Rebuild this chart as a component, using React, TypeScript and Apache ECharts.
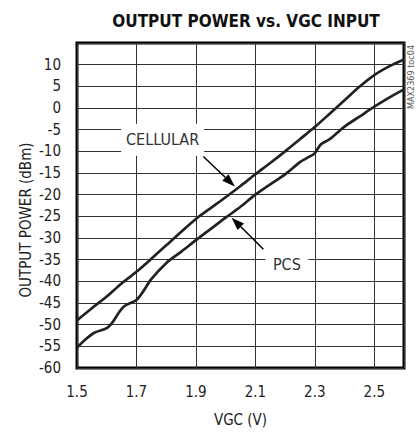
import React, { useEffect, useRef } from "react";
import * as echarts from "echarts";

const X0 = 1.5;
const cellularV = [1.5, 1.55, 1.6, 1.65, 1.7, 1.75, 1.8, 1.85, 1.9, 1.95, 2.0, 2.05, 2.1, 2.15, 2.2, 2.25, 2.3, 2.35, 2.4, 2.45, 2.5, 2.55, 2.6];
const cellularP = [-49, -46.2, -43.5, -40.5, -37.8, -34.8, -31.7, -28.6, -25.6, -23.1, -20.6, -18, -15.3, -12.7, -10, -7.2, -4.4, -1.3, 1.8, 4.9, 7.6, 9.6, 11.2];
const pcsV = [1.5, 1.53, 1.56, 1.6, 1.62, 1.64, 1.66, 1.7, 1.72, 1.75, 1.8, 1.85, 1.9, 1.95, 2.0, 2.05, 2.1, 2.15, 2.2, 2.25, 2.28, 2.3, 2.32, 2.35, 2.4, 2.45, 2.5, 2.55, 2.6];
const pcsP = [-55.3, -53.3, -51.8, -50.8, -49.4, -47.3, -45.7, -44.3, -42.6, -39.5, -35.8, -33.2, -30.5, -27.9, -25.3, -22.8, -20, -17.6, -15.3, -12.5, -11.3, -10.4, -8.4, -7.2, -4.3, -2, 0.3, 2.4, 4.3];

const FONT = "'DejaVu Sans Condensed', 'Liberation Sans Narrow', Roboto, sans-serif";

export default function App() {
  const ref = useRef<HTMLDivElement>(null);
  useEffect(() => {
    document.body.style.margin = "0";
    const chart = echarts.init(ref.current!, undefined, { renderer: "svg" });
    const toPts = (xs: number[], ys: number[]) => xs.map((x, i) => [+(x - X0).toFixed(3), ys[i]]);
    chart.setOption({
      animation: false,
      backgroundColor: "#fff",
      title: {
        text: "OUTPUT POWER vs. VGC INPUT",
        left: 241,
        top: 7,
        textAlign: "center",
        textStyle: { fontFamily: FONT, fontWeight: "bold", fontSize: 17, color: "#111" },
      },
      grid: { left: 77, right: 15, top: 43, bottom: 63, show: true, borderColor: "#000", borderWidth: 3, backgroundColor: "transparent" },
      xAxis: {
        type: "value",
        min: 0,
        max: 1.1,
        interval: 0.2,
        name: "VGC (V)",
        nameLocation: "middle",
        nameGap: 44,
        nameTextStyle: { fontFamily: FONT, fontSize: 15, color: "#222" },
        axisLine: { show: false },
        axisTick: { show: false },
        axisLabel: {
          margin: 16,
          fontFamily: FONT,
          fontSize: 15,
          color: "#222",
          formatter: (v: number) => (v > 1.05 ? "" : (v + X0).toFixed(1)),
        },
        splitLine: { show: true, lineStyle: { color: "#333", width: 1 } },
      },
      yAxis: {
        type: "value",
        min: -60,
        max: 15,
        interval: 5,
        axisLine: { show: false },
        axisTick: { show: false },
        axisLabel: {
          margin: 16,
          fontFamily: FONT,
          fontSize: 15,
          color: "#222",
          formatter: (v: number) => (v >= 15 ? "" : String(v)),
        },
        splitLine: { show: true, lineStyle: { color: "#333", width: 1 } },
      },
      series: [
        {
          name: "CELLULAR",
          type: "line",
          data: toPts(cellularV, cellularP),
          showSymbol: false,
          smooth: 0.3,
          lineStyle: { color: "#222", width: 2.7 },
          z: 5,
        },
        {
          name: "PCS",
          type: "line",
          data: toPts(pcsV, pcsP),
          showSymbol: false,
          smooth: 0.3,
          lineStyle: { color: "#222", width: 2.7 },
          z: 5,
        },
      ],
    });

    const px = (v: number, p: number) => chart.convertToPixel({ gridIndex: 0 }, [v - X0, p]) as number[];
    const arrow = (from: number[], to: number[]) => {
      const a = px(from[0], from[1]);
      const b = px(to[0], to[1]);
      const ang = Math.atan2(b[1] - a[1], b[0] - a[0]);
      const L = 13, W = 4.5;
      const bx = b[0] - L * Math.cos(ang), by = b[1] - L * Math.sin(ang);
      const nx = -Math.sin(ang), ny = Math.cos(ang);
      return [
        { type: "line", shape: { x1: a[0], y1: a[1], x2: bx, y2: by }, style: { stroke: "#000", lineWidth: 1.5 }, z: 20 },
        {
          type: "polygon",
          shape: { points: [[b[0], b[1]], [bx + nx * W, by + ny * W], [bx - nx * W, by - ny * W]] },
          style: { fill: "#000" },
          z: 20,
        },
      ];
    };
    const label = (text: string, v: number, p: number, w: number, h: number) => {
      const c = px(v, p);
      return [
        { type: "rect", shape: { x: c[0] - w / 2, y: c[1] - h / 2, width: w, height: h }, style: { fill: "#fff" }, z: 15 },
        {
          type: "text",
          x: c[0],
          y: c[1],
          style: { text, fontFamily: FONT, fontSize: 16, fill: "#333", align: "center", verticalAlign: "middle" },
          z: 16,
        },
      ];
    };
    chart.setOption({
      graphic: [
        ...label("CELLULAR", 1.788, -7.3, 83, 32),
        ...label("PCS", 2.206, -36.1, 43, 18),
        ...arrow([1.925, -11.2], [2.031, -18.1]),
        ...arrow([2.127, -32.6], [2.02, -25.3]),
        {
          type: "text",
          x: 26,
          y: 220,
          rotation: Math.PI / 2,
          style: { text: "OUTPUT POWER (dBm)", fontFamily: FONT, fontSize: 15, fill: "#222", align: "center", verticalAlign: "middle" },
        },
        {
          type: "text",
          x: 411,
          y: 77,
          rotation: Math.PI / 2,
          style: { text: "MAX2369 toc04", fontFamily: FONT, fontSize: 9, fill: "#555", align: "center", verticalAlign: "middle" },
        },
      ],
    });
    return () => chart.dispose();
  }, []);
  return <div ref={ref} style={{ width: 419, height: 432 }} />;
}
